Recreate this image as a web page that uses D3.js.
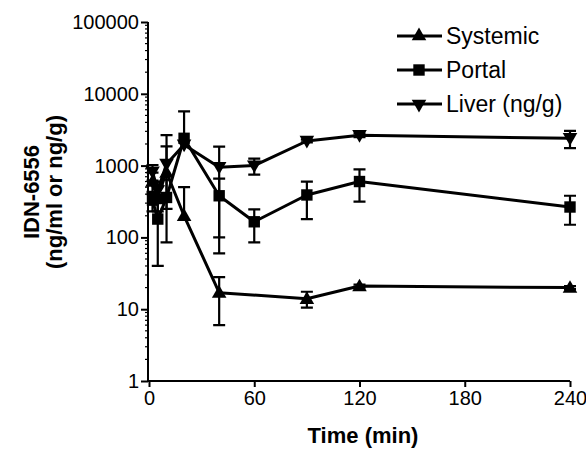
<!DOCTYPE html>
<html>
<head>
<meta charset="utf-8">
<script src="https://cdn.jsdelivr.net/npm/d3@7"></script>
<style>
  body { margin: 0; background: #fff; }
  svg text { font-family: "Liberation Sans", Arial, sans-serif; fill: #000; }
</style>
</head>
<body>
<svg id="chart" width="586" height="451"></svg>
<script>
// values (mean and SD)
var times = [2, 5, 10, 20, 40, 60, 90, 120, 240]
var systemic = [600, 380, 800, 200, 17, null, 14, 21, 20]
var systemicSd = [200, 150, 1850, 300, 11, null, 3.5, 1, 1]
var portal = [330, 180, 360, 2400, 380, 165, 390, 600, 265]
var portalSd = [100, 140, 275, 3300, 280, 80, 210, 285, 115]
var liver = [820, 450, 1050, 1950, 950, 1000, 2200, 2650, 2400]
var liverSd = [200, 150, 800, 0, 890, 250, 100, 150, 650]
var seriesNames = ["Systemic", "Portal", "Liver (ng/g)"]
var xTicks = [0, 60, 120, 180, 240]
var yTicks = [1, 10, 100, 1000, 10000, 100000]

var dimensions = {
    width: 586,
    height: 451,
    margin: { top: 22, bottom: 70, left: 148, right: 16 }
}

var svg = d3.select("#chart")

var xScale = d3.scaleLinear()
               .domain([0, 240])
               .range([149, 570])

var yScale = d3.scaleLog()
               .domain([1, 100000])
               .range([dimensions.height - dimensions.margin.bottom, dimensions.margin.top])

var symbols = [
    d3.symbol().type(d3.symbolTriangle).size(92),
    d3.symbol().type(d3.symbolSquare).size(130),
    d3.symbol().type(d3.symbolTriangle).size(92)
]
var rotations = [0, 0, 180]

var series = [
    { name: seriesNames[0], values: systemic, sd: systemicSd },
    { name: seriesNames[1], values: portal, sd: portalSd },
    { name: seriesNames[2], values: liver, sd: liverSd }
]

// axes
var xAxisGen = d3.axisBottom(xScale).tickValues(xTicks).tickSize(6).tickPadding(4)
var xAxis = svg.append("g")
               .attr("transform", `translate(0, ${yScale(1)})`)
               .call(xAxisGen)
xAxis.select(".domain").attr("d", `M${148},0H${xScale(240)}`)

var yAxisGen = d3.axisLeft(yScale).tickValues(yTicks).tickFormat(d3.format("d")).tickSize(7).tickPadding(2)
var yAxis = svg.append("g")
               .attr("transform", `translate(148, 0)`)
               .call(yAxisGen)
yAxis.select(".domain").attr("d", `M0,${yScale(1)}V${yScale(100000)}`)

// minor log ticks
var minor = []
yTicks.slice(0, -1).forEach(function(t) {
    for (var k = 2; k < 10; k++) minor.push(t * k)
})
yAxis.selectAll(".minor")
     .data(minor)
     .enter()
     .append("line")
     .attr("class", "minor")
     .attr("x1", -3)
     .attr("x2", 0)
     .attr("y1", d => yScale(d))
     .attr("y2", d => yScale(d))
     .attr("stroke", "#000")
     .attr("stroke-width", 1.2)

svg.selectAll(".tick text").style("font-size", "20px")
svg.selectAll(".domain, .tick line").attr("stroke", "#000").attr("stroke-width", 2)

// error bars
var capW = 6
series.forEach(function(s) {
    var g = svg.append("g")
    times.forEach(function(t, i) {
        var v = s.values[i], e = s.sd[i]
        if (v == null || !e) return
        var x = xScale(t)
        var hi = yScale(v + e)
        g.append("path")
         .attr("d", `M${x},${yScale(v)}V${hi}M${x - capW},${hi}H${x + capW}`)
         .attr("stroke", "#000").attr("stroke-width", 2.2).attr("fill", "none")
        if (v - e > 1) {
            var lo = yScale(v - e)
            g.append("path")
             .attr("d", `M${x},${yScale(v)}V${lo}M${x - capW},${lo}H${x + capW}`)
             .attr("stroke", "#000").attr("stroke-width", 2.2).attr("fill", "none")
        }
    })
})

// lines
var lineGen = d3.line()
                .defined(d => d[1] != null)
                .x(d => xScale(d[0]))
                .y(d => yScale(d[1]))

series.forEach(function(s) {
    var pts = times.map((t, i) => [t, s.values[i]]).filter(d => d[1] != null)
    svg.append("path")
       .datum(pts)
       .attr("d", lineGen)
       .attr("fill", "none")
       .attr("stroke", "#000")
       .attr("stroke-width", 3)
       .attr("stroke-linejoin", "round")
})

// markers
series.forEach(function(s, si) {
    svg.append("g")
       .selectAll("path")
       .data(times.map((t, i) => [t, s.values[i]]).filter(d => d[1] != null))
       .enter()
       .append("path")
       .attr("d", symbols[si])
       .attr("transform", d => `translate(${xScale(d[0])}, ${yScale(d[1]) + (si == 0 ? 1 : si == 2 ? -1 : 0)}) rotate(${rotations[si]})`)
       .attr("fill", "#000")
})

// axis titles
svg.append("text")
   .attr("x", 363)
   .attr("y", 443)
   .attr("text-anchor", "middle")
   .style("font-size", "22px")
   .style("font-weight", "bold")
   .text("Time (min)")

var yTitle = svg.append("text")
                .attr("transform", "translate(0, 192) rotate(-90)")
                .attr("text-anchor", "middle")
                .style("font-size", "22px")
                .style("font-weight", "bold")
yTitle.append("tspan").attr("x", 0).attr("y", 39).text("IDN-6556")
yTitle.append("tspan").attr("x", 0).attr("y", 62).text("(ng/ml or ng/g)")

// legend
var legend = svg.append("g").attr("transform", "translate(397, 36)")
var legendSpacing = 34
seriesNames.forEach(function(name, i) {
    var y = i * legendSpacing
    legend.append("line")
          .attr("x1", 0).attr("x2", 45)
          .attr("y1", y).attr("y2", y)
          .attr("stroke", "#000").attr("stroke-width", 3)
    legend.append("path")
          .attr("d", symbols[i])
          .attr("transform", `translate(22, ${y}) rotate(${rotations[i]})`)
          .attr("fill", "#000")
    legend.append("text")
          .attr("x", 49)
          .attr("y", y)
          .attr("dy", "0.35em")
          .style("font-size", "23px")
          .text(name)
})
</script>
</body>
</html>
